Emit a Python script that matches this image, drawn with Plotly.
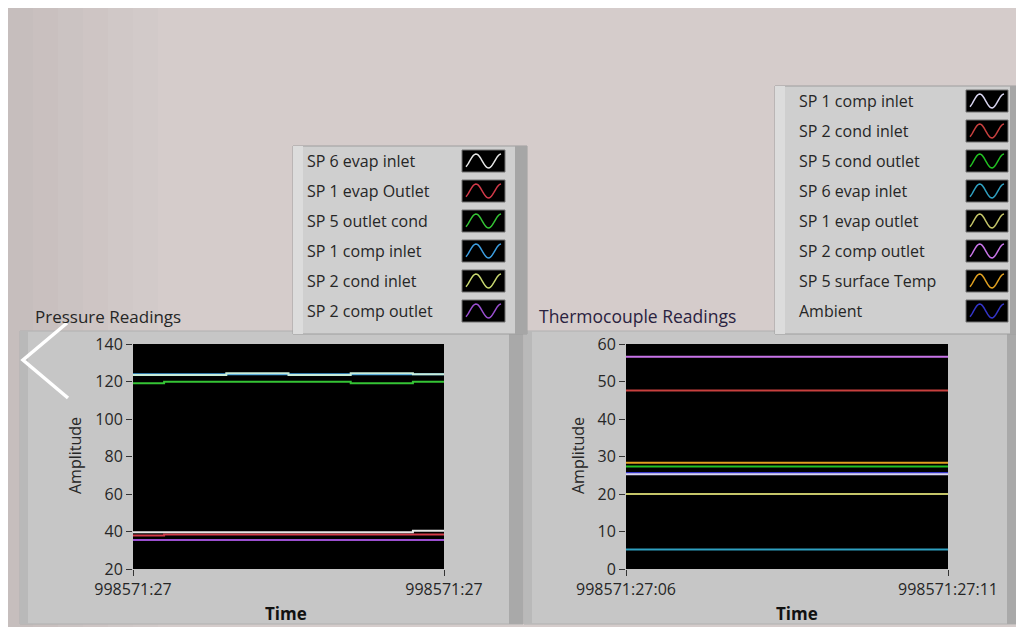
import numpy as np
import plotly.graph_objects as go

# page body has an 8px margin: the figure fills the rest of the 1024x627 window
OFF = 8
W, H = 1024 - OFF, 627 - OFF

# ---------------- DATA ----------------
# Pressure Readings (samples across the time window)
p_x = [0, 1, 2, 3, 4, 5, 6, 7, 8, 9, 10]
p_names = ["SP 6 evap inlet", "SP 1 evap Outlet", "SP 5 outlet cond",
           "SP 1 comp inlet", "SP 2 cond inlet", "SP 2 comp outlet"]
p_sp6_evap_inlet = [39.6, 39.6, 39.6, 39.6, 39.6, 39.6, 39.6, 39.6, 39.6, 40.4, 40.4]
p_sp1_evap_outlet = [37.8, 38.4, 38.4, 38.4, 38.4, 38.4, 38.4, 38.4, 38.4, 38.4, 38.4]
p_sp5_outlet_cond = [119.0, 119.8, 119.8, 119.8, 119.8, 119.8, 119.8, 119.0, 119.0, 119.8, 119.8]
p_sp1_comp_inlet = [123.8, 123.8, 123.8, 123.8, 123.8, 123.8, 123.8, 123.8, 123.8, 123.8, 123.8]
p_sp2_cond_inlet = [123.4, 123.4, 123.4, 124.4, 124.4, 123.4, 123.4, 124.4, 124.4, 123.8, 123.8]
p_sp2_comp_outlet = [35.5, 35.5, 35.5, 35.5, 35.5, 35.5, 35.5, 35.5, 35.5, 35.5, 35.5]
p_colors = ["#e6e6e6", "#d23a48", "#35c435", "#3c9ee0", "#c8ecd8", "#9a4fd0"]
p_series = [p_sp6_evap_inlet, p_sp1_evap_outlet, p_sp5_outlet_cond,
            p_sp1_comp_inlet, p_sp2_cond_inlet, p_sp2_comp_outlet]
p_legend_colors = ["#e6e6e6", "#d23a48", "#35c435", "#3c9ee0", "#c8d870", "#9a4fd0"]
p_draw_order = [3, 4, 2, 5, 1, 0]
p_ticks = [20, 40, 60, 80, 100, 120, 140]
p_xtext = ["998571:27", "998571:27"]

# Thermocouple Readings
t_x = [0, 1, 2, 3, 4, 5]
t_names = ["SP 1 comp inlet", "SP 2 cond inlet", "SP 5 cond outlet", "SP 6 evap inlet",
           "SP 1 evap outlet", "SP 2 comp outlet", "SP 5 surface Temp", "Ambient"]
t_sp1_comp_inlet = [25.3, 25.3, 25.3, 25.3, 25.3, 25.3]
t_sp2_cond_inlet = [47.6, 47.6, 47.6, 47.6, 47.6, 47.6]
t_sp5_cond_outlet = [27.3, 27.3, 27.3, 27.3, 27.3, 27.3]
t_sp6_evap_inlet = [5.2, 5.2, 5.2, 5.2, 5.2, 5.2]
t_sp1_evap_outlet = [20.0, 20.0, 20.0, 20.0, 20.0, 20.0]
t_sp2_comp_outlet = [56.6, 56.6, 56.6, 56.6, 56.6, 56.6]
t_sp5_surface_temp = [28.3, 28.3, 28.3, 28.3, 28.3, 28.3]
t_ambient = [25.6, 25.6, 25.6, 25.6, 25.6, 25.6]
t_colors = ["#d8d4f0", "#c8403e", "#22c022", "#2fa0c0",
            "#c4c468", "#c874e8", "#e0a020", "#3434c8"]
t_series = [t_sp1_comp_inlet, t_sp2_cond_inlet, t_sp5_cond_outlet, t_sp6_evap_inlet,
            t_sp1_evap_outlet, t_sp2_comp_outlet, t_sp5_surface_temp, t_ambient]
t_draw_order = [7, 0, 1, 2, 3, 4, 5, 6]
t_ticks = [0, 10, 20, 30, 40, 50, 60]
t_xtext = ["998571:27:06", "998571:27:11"]


# ---------------- helpers (window pixels -> paper fractions) ----------------
def fx(x):
    return (x - OFF) / W


def fy(y):
    return 1 - (y - OFF) / H


FONT = "Open Sans"
TXT = "#262626"

fig = go.Figure()

for i in p_draw_order:
    fig.add_trace(go.Scatter(x=p_x, y=p_series[i], name=p_names[i], mode="lines",
                             line=dict(color=p_colors[i], width=2, shape="hv"),
                             xaxis="x", yaxis="y", showlegend=False))
for i in t_draw_order:
    fig.add_trace(go.Scatter(x=t_x, y=t_series[i], name=t_names[i], mode="lines",
                             line=dict(color=t_colors[i], width=2),
                             xaxis="x2", yaxis="y2", showlegend=False))

shapes = []
annotations = []

# page background with a soft left-to-right gradient
shapes.append(dict(type="rect", xref="paper", yref="paper", x0=0, x1=1, y0=0, y1=1,
                   fillcolor="#d5cccb", line=dict(width=0), layer="below"))
grad = ["#c6bebd", "#c9c0bf", "#cbc3c2", "#cec5c4", "#d0c8c7", "#d2cac9"]
for k, c in enumerate(grad):
    shapes.append(dict(type="rect", xref="paper", yref="paper",
                       x0=fx(8 + 25 * k), x1=fx(8 + 25 * (k + 1)), y0=0, y1=1,
                       fillcolor=c, line=dict(width=0), layer="below"))

# graph panels
for (x0, x1) in [(20, 523), (524, 1021)]:
    shapes.append(dict(type="rect", xref="paper", yref="paper", x0=fx(x0), x1=fx(x1),
                       y0=fy(624), y1=fy(331), fillcolor="#c6c6c6",
                       line=dict(color="#b0b0b0", width=1), layer="below"))
    shapes.append(dict(type="rect", xref="paper", yref="paper", x0=fx(x1 - 14), x1=fx(x1),
                       y0=fy(624), y1=fy(331), fillcolor="#a9a9a9",
                       line=dict(width=0), layer="below"))
    shapes.append(dict(type="rect", xref="paper", yref="paper", x0=fx(x0), x1=fx(x0 + 8),
                       y0=fy(624), y1=fy(331), fillcolor="#b9b9b9",
                       line=dict(width=0), layer="below"))

# black plot areas (drawn over the panels)
for ax, ay in (("x", "y"), ("x2", "y2")):
    shapes.append(dict(type="rect", xref=f"{ax} domain", yref=f"{ay} domain",
                       x0=0, x1=1, y0=0, y1=1, fillcolor="#000000",
                       line=dict(width=0), layer="below"))


# legend boxes
def legend_box(x0, x1, ytop, names, colors, text_x, sw_x0, sw_x1):
    ybot = ytop + 30 * len(names) + 8
    shapes.append(dict(type="rect", xref="paper", yref="paper", x0=fx(x0), x1=fx(x1),
                       y0=fy(ybot), y1=fy(ytop), fillcolor="#cfcfcf",
                       line=dict(color="#9e9e9e", width=1), layer="below"))
    shapes.append(dict(type="rect", xref="paper", yref="paper", x0=fx(x1 - 12), x1=fx(x1),
                       y0=fy(ybot), y1=fy(ytop), fillcolor="#a6a6a6",
                       line=dict(width=0), layer="below"))
    shapes.append(dict(type="rect", xref="paper", yref="paper", x0=fx(x0), x1=fx(x0 + 10),
                       y0=fy(ybot), y1=fy(ytop), fillcolor="#dcdcdc",
                       line=dict(width=0), layer="below"))
    for k, (nm, c) in enumerate(zip(names, colors)):
        yc = ytop + 15 + 30 * k
        annotations.append(dict(text=nm, xref="paper", yref="paper", x=fx(text_x), y=fy(yc),
                                xanchor="left", yanchor="middle", showarrow=False,
                                font=dict(family=FONT, size=16, color=TXT)))
        shapes.append(dict(type="rect", xref="paper", yref="paper", x0=fx(sw_x0), x1=fx(sw_x1),
                           y0=fy(yc + 11), y1=fy(yc - 11), fillcolor="#000000",
                           line=dict(color="#707070", width=1)))
        th = np.linspace(-0.3 * np.pi, 2.5 * np.pi, 30)
        xs = sw_x0 + 4 + (th - th[0]) / (th[-1] - th[0]) * (sw_x1 - sw_x0 - 8)
        ys = yc - 7 * np.sin(th)
        path = "M " + " L ".join(f"{fx(a):.5f},{fy(b):.5f}" for a, b in zip(xs, ys))
        shapes.append(dict(type="path", xref="paper", yref="paper", path=path,
                           line=dict(color=c, width=1.5)))


legend_box(293, 527, 146, p_names, p_legend_colors, 305, 462, 505)
legend_box(775, 1022, 86, t_names, t_colors, 797, 966, 1008)

# chevron
shapes.append(dict(type="path", xref="paper", yref="paper",
                   path=f"M {fx(67)},{fy(323)} L {fx(23)},{fy(360)} L {fx(68)},{fy(398)}",
                   line=dict(color="#ffffff", width=3.5)))

# titles
annotations.append(dict(text="Pressure Readings", xref="paper", yref="paper", x=fx(33), y=fy(316),
                        xanchor="left", yanchor="middle", showarrow=False,
                        font=dict(family=FONT, size=17, color=TXT)))
annotations.append(dict(text="Thermocouple Readings", xref="paper", yref="paper", x=fx(537), y=fy(316),
                        xanchor="left", yanchor="middle", showarrow=False,
                        font=dict(family=FONT, size=17.5, color="#2a2240")))
# axis titles
for xc in (75, 578):
    annotations.append(dict(text="Amplitude", xref="paper", yref="paper", x=fx(xc), y=fy(456),
                            xanchor="center", yanchor="middle", textangle=-90, showarrow=False,
                            font=dict(family=FONT, size=16, color=TXT)))
for xc in (286, 797):
    annotations.append(dict(text="<b>Time</b>", xref="paper", yref="paper", x=fx(xc), y=fy(613),
                            xanchor="center", yanchor="middle", showarrow=False,
                            font=dict(family=FONT, size=17, color="#111111")))

tickfont = dict(family=FONT, size=16, color=TXT)
ax_common = dict(showgrid=False, zeroline=False, showline=False, ticks="outside",
                 ticklen=6, tickwidth=1, tickcolor="#333333", tickfont=tickfont,
                 fixedrange=True, automargin=False)

fig.update_layout(
    width=W, height=H, margin=dict(l=0, r=0, t=0, b=0, pad=0, autoexpand=False),
    paper_bgcolor="#ffffff", plot_bgcolor="#000000", showlegend=False,
    xaxis=dict(domain=[fx(133), fx(444)], range=[0, 10], tickvals=[0, 10], ticktext=p_xtext,
               anchor="y", **ax_common),
    yaxis=dict(domain=[fy(569), fy(344)], range=[20, 140], tickvals=p_ticks,
               anchor="x", **ax_common),
    xaxis2=dict(domain=[fx(626), fx(948)], range=[0, 5], tickvals=[0, 5], ticktext=t_xtext,
                anchor="y2", **ax_common),
    yaxis2=dict(domain=[fy(569), fy(344)], range=[0, 60], tickvals=t_ticks,
                anchor="x2", **ax_common),
    shapes=shapes, annotations=annotations,
)

fig.write_html("out.html")
